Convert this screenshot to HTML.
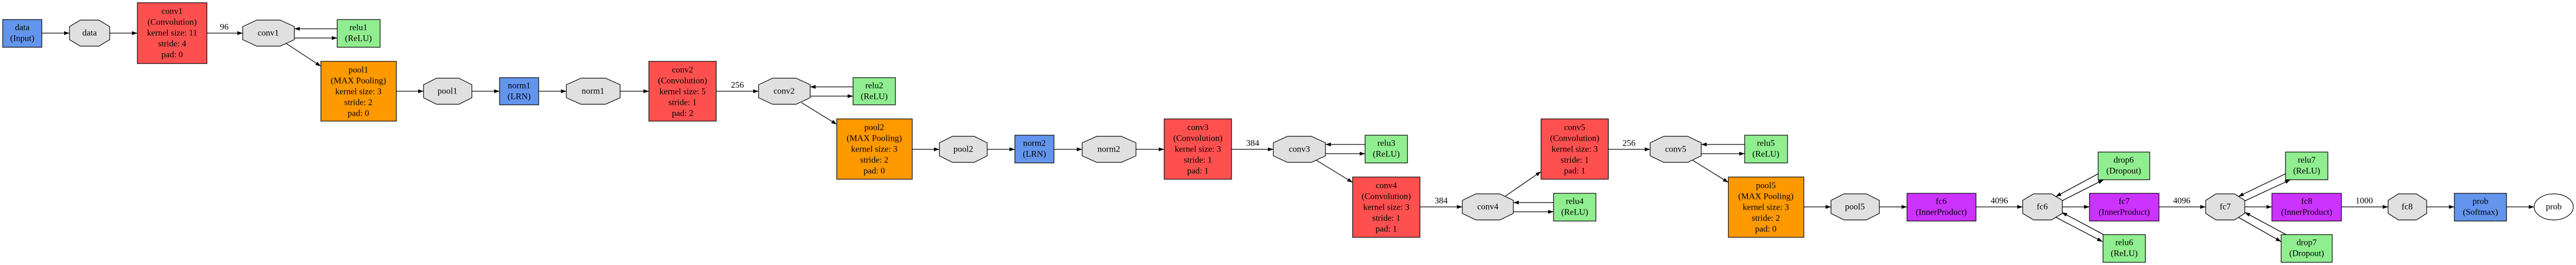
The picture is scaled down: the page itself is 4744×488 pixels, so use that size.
<!DOCTYPE html>
<html><head><meta charset="utf-8"><style>
html,body{margin:0;padding:0;background:#fff;}
svg{display:block;}
text{font-family:"Liberation Serif",serif;font-size:16px;fill:#000;text-anchor:middle;dominant-baseline:central;}
.b{stroke:#000;stroke-width:1.2;}
.o{fill:#e0e0e0;stroke:#000;stroke-width:1.2;}
.e{stroke:#000;stroke-width:1.3;fill:none;marker-end:url(#a);}
.r{fill:#ff5050}.g{fill:#90ee90}.u{fill:#6495ed}.y{fill:#ff9900}.p{fill:#cc33ff}
</style></head><body>
<svg width="4744" height="488" viewBox="0 0 4744 488" xmlns="http://www.w3.org/2000/svg">
<defs><marker id="a" markerUnits="userSpaceOnUse" markerWidth="11" markerHeight="8" refX="10" refY="3.5" orient="auto"><path d="M0,0 L10,3.5 L0,7 z" fill="#000"/></marker></defs>

<!-- edges -->
<g>
<line class="e" x1="77" y1="61" x2="128" y2="61"/>
<line class="e" x1="202" y1="61" x2="253" y2="61"/>
<line class="e" x1="381" y1="61" x2="447" y2="61"/>
<line class="e" x1="621" y1="53" x2="542" y2="53"/>
<line class="e" x1="542" y1="70" x2="621" y2="70"/>
<line class="e" x1="527" y1="80" x2="591" y2="122"/>

<line class="e" x1="730" y1="168" x2="780" y2="168"/>
<line class="e" x1="869" y1="168" x2="920" y2="168"/>
<line class="e" x1="992" y1="168" x2="1043" y2="168"/>
<line class="e" x1="1142" y1="168" x2="1195" y2="168"/>
<line class="e" x1="1319" y1="168" x2="1397" y2="168"/>
<line class="e" x1="1571" y1="160" x2="1492" y2="160"/>
<line class="e" x1="1492" y1="177" x2="1571" y2="177"/>
<line class="e" x1="1476" y1="189" x2="1541" y2="229"/>

<line class="e" x1="1680" y1="275" x2="1730" y2="275"/>
<line class="e" x1="1818" y1="275" x2="1869" y2="275"/>
<line class="e" x1="1941" y1="275" x2="1993" y2="275"/>
<line class="e" x1="2092" y1="275" x2="2144" y2="275"/>
<line class="e" x1="2268" y1="275" x2="2345" y2="275"/>
<line class="e" x1="2514" y1="266" x2="2441" y2="266"/>
<line class="e" x1="2441" y1="283" x2="2514" y2="283"/>
<line class="e" x1="2424" y1="295" x2="2491" y2="336"/>

<line class="e" x1="2615" y1="381" x2="2693" y2="381"/>
<line class="e" x1="2861" y1="373" x2="2787" y2="373"/>
<line class="e" x1="2787" y1="390" x2="2861" y2="390"/>
<line class="e" x1="2771" y1="362" x2="2838" y2="316"/>

<line class="e" x1="2962" y1="275" x2="3039" y2="275"/>
<line class="e" x1="3213" y1="266" x2="3133" y2="266"/>
<line class="e" x1="3133" y1="283" x2="3213" y2="283"/>
<line class="e" x1="3117" y1="295" x2="3183" y2="336"/>

<line class="e" x1="3322" y1="381" x2="3372" y2="381"/>
<line class="e" x1="3461" y1="381" x2="3512" y2="381"/>
<line class="e" x1="3639" y1="381" x2="3725" y2="381"/>

<line class="e" x1="3864" y1="320" x2="3786" y2="362"/>
<line class="e" x1="3797" y1="370" x2="3874" y2="331"/>
<line class="e" x1="3874" y1="432" x2="3797" y2="391"/>
<line class="e" x1="3786" y1="400" x2="3872" y2="445"/>
<line class="e" x1="3798" y1="381" x2="3848" y2="381"/>

<line class="e" x1="3976" y1="381" x2="4062" y2="381"/>
<line class="e" x1="4209" y1="320" x2="4122" y2="362"/>
<line class="e" x1="4134" y1="370" x2="4218" y2="331"/>
<line class="e" x1="4210" y1="432" x2="4134" y2="391"/>
<line class="e" x1="4122" y1="400" x2="4201" y2="445"/>
<line class="e" x1="4134" y1="381" x2="4184" y2="381"/>

<line class="e" x1="4312" y1="381" x2="4398" y2="381"/>
<line class="e" x1="4469" y1="381" x2="4520" y2="381"/>
<line class="e" x1="4616" y1="381" x2="4667" y2="381"/>
</g>

<!-- edge labels -->
<text x="413" y="50">96</text>
<text x="1358" y="157">256</text>
<text x="2307" y="264">384</text>
<text x="2654" y="370">384</text>
<text x="3000" y="264">256</text>
<text x="3682" y="370">4096</text>
<text x="4018" y="370">4096</text>
<text x="4354" y="370">1000</text>

<!-- octagons -->
<polygon class="o" points="148,37 182,37 202,49 202,73 182,85 148,85 128,73 128,49"/><text x="165" y="61">data</text>
<polygon class="o" points="473,37 516,37 542,49 542,73 516,85 473,85 447,73 447,49"/><text x="494" y="61">conv1</text>
<polygon class="o" points="804,144 845,144 869,156 869,180 845,192 804,192 780,180 780,156"/><text x="824" y="168">pool1</text>
<polygon class="o" points="1070,144 1115,144 1142,156 1142,180 1115,192 1070,192 1043,180 1043,156"/><text x="1092" y="168">norm1</text>
<polygon class="o" points="1423,144 1466,144 1492,156 1492,180 1466,192 1423,192 1397,180 1397,156"/><text x="1444" y="168">conv2</text>
<polygon class="o" points="1754,251 1794,251 1818,263 1818,287 1794,299 1754,299 1730,287 1730,263"/><text x="1774" y="275">pool2</text>
<polygon class="o" points="2020,251 2065,251 2092,263 2092,287 2065,299 2020,299 1993,287 1993,263"/><text x="2042" y="275">norm2</text>
<polygon class="o" points="2371,251 2415,251 2441,263 2441,287 2415,299 2371,299 2345,287 2345,263"/><text x="2393" y="275">conv3</text>
<polygon class="o" points="2718,357 2762,357 2787,369 2787,393 2762,405 2718,405 2693,393 2693,369"/><text x="2740" y="381">conv4</text>
<polygon class="o" points="3064,251 3108,251 3133,263 3133,287 3108,299 3064,299 3039,287 3039,263"/><text x="3086" y="275">conv5</text>
<polygon class="o" points="3396,357 3437,357 3461,369 3461,393 3437,405 3396,405 3372,393 3372,369"/><text x="3416" y="381">pool5</text>
<polygon class="o" points="3745,357 3778,357 3798,369 3798,393 3778,405 3745,405 3725,393 3725,369"/><text x="3761" y="381">fc6</text>
<polygon class="o" points="4081,357 4115,357 4134,369 4134,393 4115,405 4081,405 4062,393 4062,369"/><text x="4098" y="381">fc7</text>
<polygon class="o" points="4417,357 4450,357 4469,369 4469,393 4450,405 4417,405 4398,393 4398,369"/><text x="4433" y="381">fc8</text>
<ellipse cx="4703" cy="381" rx="36" ry="24" fill="#fff" stroke="#000" stroke-width="1.2"/><text x="4703" y="381">prob</text>

<!-- boxes -->
<rect class="b u" x="5" y="36" width="72" height="51"/><text x="41" y="51">data</text><text x="41" y="71">(Input)</text>

<rect class="b r" x="253" y="5" width="128" height="112"/>
<text x="317" y="21">conv1</text><text x="317" y="41">(Convolution)</text><text x="317" y="61">kernel size: 11</text><text x="317" y="81">stride: 4</text><text x="317" y="101">pad: 0</text>

<rect class="b g" x="621" y="36" width="79" height="51"/><text x="660" y="51">relu1</text><text x="660" y="71">(ReLU)</text>

<rect class="b y" x="591" y="113" width="139" height="110"/>
<text x="660" y="129">pool1</text><text x="660" y="149">(MAX Pooling)</text><text x="660" y="169">kernel size: 3</text><text x="660" y="189">stride: 2</text><text x="660" y="209">pad: 0</text>

<rect class="b u" x="920" y="143" width="72" height="50"/><text x="956" y="158">norm1</text><text x="956" y="178">(LRN)</text>

<rect class="b r" x="1195" y="113" width="124" height="110"/>
<text x="1257" y="129">conv2</text><text x="1257" y="149">(Convolution)</text><text x="1257" y="169">kernel size: 5</text><text x="1257" y="189">stride: 1</text><text x="1257" y="209">pad: 2</text>

<rect class="b g" x="1571" y="143" width="78" height="50"/><text x="1610" y="158">relu2</text><text x="1610" y="178">(ReLU)</text>

<rect class="b y" x="1541" y="219" width="139" height="111"/>
<text x="1610" y="235">pool2</text><text x="1610" y="255">(MAX Pooling)</text><text x="1610" y="275">kernel size: 3</text><text x="1610" y="295">stride: 2</text><text x="1610" y="315">pad: 0</text>

<rect class="b u" x="1869" y="249" width="72" height="51"/><text x="1905" y="264">norm2</text><text x="1905" y="284">(LRN)</text>

<rect class="b r" x="2144" y="219" width="124" height="111"/>
<text x="2206" y="235">conv3</text><text x="2206" y="255">(Convolution)</text><text x="2206" y="275">kernel size: 3</text><text x="2206" y="295">stride: 1</text><text x="2206" y="315">pad: 1</text>

<rect class="b g" x="2514" y="249" width="78" height="51"/><text x="2553" y="264">relu3</text><text x="2553" y="284">(ReLU)</text>

<rect class="b r" x="2491" y="326" width="124" height="111"/>
<text x="2553" y="342">conv4</text><text x="2553" y="362">(Convolution)</text><text x="2553" y="382">kernel size: 3</text><text x="2553" y="402">stride: 1</text><text x="2553" y="422">pad: 1</text>

<rect class="b g" x="2861" y="356" width="78" height="51"/><text x="2900" y="371">relu4</text><text x="2900" y="391">(ReLU)</text>

<rect class="b r" x="2838" y="219" width="124" height="111"/>
<text x="2900" y="235">conv5</text><text x="2900" y="255">(Convolution)</text><text x="2900" y="275">kernel size: 3</text><text x="2900" y="295">stride: 1</text><text x="2900" y="315">pad: 1</text>

<rect class="b g" x="3213" y="249" width="79" height="51"/><text x="3252" y="264">relu5</text><text x="3252" y="284">(ReLU)</text>

<rect class="b y" x="3183" y="326" width="139" height="111"/>
<text x="3252" y="342">pool5</text><text x="3252" y="362">(MAX Pooling)</text><text x="3252" y="382">kernel size: 3</text><text x="3252" y="402">stride: 2</text><text x="3252" y="422">pad: 0</text>

<rect class="b p" x="3512" y="356" width="127" height="51"/><text x="3575" y="371">fc6</text><text x="3575" y="391">(InnerProduct)</text>

<rect class="b g" x="3864" y="280" width="95" height="51"/><text x="3911" y="295">drop6</text><text x="3911" y="315">(Dropout)</text>

<rect class="b p" x="3848" y="356" width="128" height="51"/><text x="3912" y="371">fc7</text><text x="3912" y="391">(InnerProduct)</text>

<rect class="b g" x="3873" y="432" width="78" height="51"/><text x="3912" y="447">relu6</text><text x="3912" y="467">(ReLU)</text>

<rect class="b g" x="4209" y="280" width="78" height="51"/><text x="4248" y="295">relu7</text><text x="4248" y="315">(ReLU)</text>

<rect class="b p" x="4184" y="356" width="128" height="51"/><text x="4248" y="371">fc8</text><text x="4248" y="391">(InnerProduct)</text>

<rect class="b g" x="4201" y="432" width="94" height="51"/><text x="4248" y="447">drop7</text><text x="4248" y="467">(Dropout)</text>

<rect class="b u" x="4520" y="356" width="96" height="51"/><text x="4568" y="371">prob</text><text x="4568" y="391">(Softmax)</text>
</svg>
</body></html>
